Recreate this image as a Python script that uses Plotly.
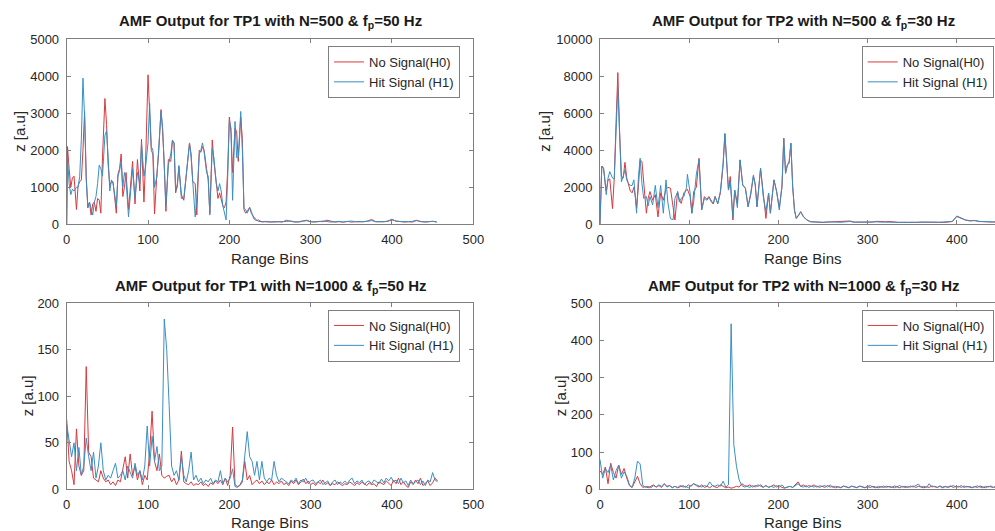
import plotly.graph_objects as go

# ---------------- TP1, N=500, fp=50 Hz ----------------
tp1_n500_bins = [
    0, 1, 3, 5, 7, 9, 12, 14, 16, 18,
    20, 22, 24, 26, 28, 30, 32, 34, 36, 38,
    40, 42, 44, 47, 49, 51, 53, 55, 57, 59,
    61, 63, 65, 67, 69, 71, 73, 76, 79, 81,
    84, 87, 90, 92, 95, 97, 100, 102, 104, 106,
    108, 111, 113, 116, 118, 120, 122, 125, 128, 130,
    132, 134, 136, 138, 141, 144, 147, 151, 153, 155,
    158, 160, 163, 165, 167, 169, 172, 174, 176, 179,
    181, 184, 186, 188, 190, 192, 194, 196, 198, 200,
    202, 204, 207, 209, 211, 214, 216, 218, 220, 222,
    225, 227, 230, 233, 236, 240,
] + list(range(245, 460, 5))
tp1_n500_h0 = [
    0, 2100, 1500, 1000, 1250, 1300, 400, 1050, 1150, 1200,
    2000, 3050, 1300, 450, 600, 250, 550, 600, 350, 700,
    650, 300, 1800, 3400, 2700, 1600, 1050, 1150, 1150, 650,
    300, 1350, 1500, 1900, 750, 1000, 1400, 400, 1300, 1700,
    550, 1750, 900, 2300, 600, 1700, 4040, 2900, 2000, 1900,
    280, 1400, 1900, 3100, 2500, 1600, 350, 1750, 1700, 2250,
    2200, 850, 1100, 1550, 800, 650, 1400, 2200, 1900, 1150,
    1100, 250, 2000, 1950, 2100, 2000, 1500, 1200, 300, 2280,
    1700, 1000, 700, 850, 700, 500, 450, 600, 1500, 2900,
    2500, 1400, 2600, 2500, 1700, 2900, 2300, 400, 300, 350,
    460, 300, 200, 120, 80, 70,
    70, 60, 70, 60, 70, 80, 90, 70, 60, 80,
    100, 70, 60, 80, 70, 110, 80, 60, 70, 60,
    80, 60, 70, 60, 70, 90, 130, 70, 60, 70,
    80, 120, 90, 70, 60, 70, 60, 100, 70, 60,
    70, 80, 60,
]
tp1_n500_h1 = [
    0, 1800, 1100, 800, 950, 900, 1000, 1000, 1300, 2300,
    3950, 2900, 1200, 450, 600, 450, 250, 600, 750, 1100,
    1600, 1500, 1300, 2400, 2530, 1800, 900, 1200, 1100, 800,
    500, 1300, 1450, 1700, 1000, 1400, 1200, 200, 1100, 1500,
    700, 1400, 1100, 2200, 1300, 1550, 2200, 3270, 2100, 2000,
    1000, 1300, 2000, 3050, 2600, 1500, 500, 1600, 1900, 2280,
    2200, 900, 1000, 1590, 700, 700, 1400, 2190, 1800, 1250,
    200, 700, 1900, 2000, 2200, 1950, 1400, 1300, 250, 2050,
    1800, 1100, 900, 1100, 900, 500, 300, 120, 1300, 2800,
    2600, 650, 2780, 1800, 1800, 3050, 2000, 430, 400, 300,
    450, 350, 150, 100, 120, 60,
    80, 60, 60, 70, 60, 110, 80, 60, 70, 90,
    110, 70, 60, 70, 90, 70, 60, 70, 80, 60,
    70, 90, 70, 60, 70, 80, 100, 70, 60, 70,
    90, 140, 80, 70, 60, 70, 80, 110, 70, 60,
    70, 80, 70,
]

# ---------------- TP2, N=500, fp=30 Hz ----------------
tp2_n500_bins = [
    0, 2, 4, 7, 9, 11, 14, 16, 18, 20,
    22, 24, 26, 28, 30, 32, 34, 36, 38, 40,
    41, 43, 45, 47, 49, 52, 54, 56, 59, 62,
    65, 68, 71, 74, 76, 79, 82, 84, 87, 89,
    91, 94, 97, 98, 101, 103, 105, 108, 111, 114,
    117, 120, 122, 125, 127, 129, 132, 135, 138, 140,
    142, 144, 146, 149, 151, 154, 157, 160, 163, 166,
    169, 172, 174, 176, 180, 183, 186, 189, 191, 195,
    198, 201, 204, 206, 208, 210, 212, 214, 216, 218,
    220, 223, 225, 228, 232, 236, 240,
] + list(range(245, 460, 5))
tp2_n500_h0 = [
    0, 3150, 3000, 1800, 2400, 2450, 850, 2500, 5500, 8200,
    5000, 2600, 2500, 3350, 2500, 2200, 1800, 1700, 2000, 1400,
    900, 2000, 3450, 3400, 2200, 600, 1400, 1770, 1300, 1600,
    400, 1700, 1300, 1900, 2000, 1950, 900, 230, 1770, 1300,
    1130, 1700, 1850, 1900, 1500, 600, 1770, 2000, 3570, 800,
    1500, 1350, 1500, 1300, 1100, 1500, 1130, 1700, 3200, 4900,
    3500, 1850, 2580, 230, 1850, 1130, 3480, 2120, 1950, 950,
    1600, 2600, 2200, 950, 3030, 1500, 320, 1680, 600, 2400,
    1770, 900, 2000, 4650, 2760, 3200, 3300, 4380, 2040, 770,
    320, 500, 680, 410, 230, 140, 120,
    110, 100, 120, 130, 110, 120, 140, 180, 120, 110,
    100, 110, 120, 160, 130, 140, 150, 110, 100, 110,
    100, 110, 100, 120, 110, 100, 120, 110, 100, 120,
    150, 420, 300, 220, 180, 200, 150, 130, 140, 120,
    130, 120, 110,
]
tp2_n500_h1 = [
    0, 3150, 3050, 1600, 2500, 2850, 2500, 2450, 5000, 7400,
    4800, 2300, 2600, 2950, 2400, 2200, 2100, 2100, 2400, 1200,
    600, 2500, 3570, 2200, 1400, 1500, 1000, 1500, 1050, 2100,
    900, 2100, 600, 2400, 1200, 300, 250, 1400, 1750, 1200,
    1400, 1500, 2000, 2700, 1700, 600, 1200, 2700, 3500, 770,
    1400, 1300, 1450, 1200, 1100, 1500, 1100, 1800, 3300, 4900,
    3300, 1850, 2300, 350, 1850, 900, 3480, 2120, 1950, 950,
    1700, 2670, 2100, 950, 3030, 1500, 700, 1680, 600, 2400,
    1770, 770, 2100, 4650, 2760, 3200, 3400, 4380, 2040, 770,
    320, 500, 680, 410, 230, 140, 120,
    130, 110, 130, 140, 120, 110, 130, 150, 110, 120,
    110, 100, 110, 130, 120, 110, 120, 110, 120, 110,
    100, 110, 120, 110, 100, 110, 120, 110, 120, 130,
    160, 450, 340, 230, 200, 210, 160, 140, 150, 130,
    140, 130, 120,
]

# ---------------- N=1000 runs (bins sampled every 3) ----------------
n1000_bins = list(range(0, 457, 3))

tp1_n1000_h0 = [
    75, 30, 20, 5, 65, 25, 15, 20, 132, 40,
    35, 12, 10, 8, 20, 12, 8, 10, 5, 8,
    4, 10, 8, 22, 35, 12, 38, 15, 25, 10,
    20, 5, 15, 10, 40, 84, 30, 20, 38, 15,
    12, 14, 15, 8, 12, 5, 10, 41, 8, 6,
    5, 8, 4, 6, 5, 8, 4, 6, 3, 7,
    5, 9, 6, 10, 5, 12, 4, 15, 67, 5,
    3, 4, 8, 30, 10, 15, 5, 8, 10, 6,
    9, 5, 8, 6, 10, 5, 8, 6, 9, 5,
    7, 4, 9, 6, 10, 5, 8, 11, 6, 9,
    5, 7, 4, 8, 6, 10, 5, 7, 4, 6,
    5, 8, 6, 4, 6, 5, 8, 6, 4, 7,
    5, 8, 6, 4, 7, 5, 6, 3, 8, 6,
    5, 9, 6, 4, 10, 6, 12, 5, 8, 4,
    2, 8, 5, 10, 6, 12, 4, 7, 9, 4,
    7, 12, 9,
]
tp1_n1000_h1 = [
    70, 50, 35, 50, 20, 45, 15, 25, 55, 35,
    20, 40, 12, 25, 50, 20, 10, 15, 12, 20,
    28, 12, 15, 20, 10, 25, 18, 12, 28, 15,
    20, 10, 25, 68, 25, 57, 30, 46, 20, 25,
    183, 150, 90, 25, 15, 20, 10, 35, 15, 8,
    20, 40, 10, 15, 8, 12, 6, 10, 8, 12,
    6, 10, 8, 20, 6, 12, 8, 12, 22, 3,
    2, 5, 10, 40, 62, 35, 30, 15, 30, 10,
    30, 12, 8, 12, 10, 30, 15, 8, 12, 10,
    8, 6, 10, 8, 12, 6, 10, 8, 12, 6,
    9, 10, 6, 8, 10, 5, 7, 9, 4, 8,
    10, 5, 8, 6, 9, 6, 10, 12, 6, 9,
    7, 10, 5, 8, 9, 6, 10, 8, 6, 11,
    7, 12, 9, 13, 8, 10, 6, 12, 7, 9,
    4, 10, 6, 8, 10, 5, 9, 4, 10, 8,
    18, 10, 8,
]
tp2_n1000_h0 = [
    50, 40, 60, 15, 70, 45, 30, 65, 40, 56,
    30, 10, 5, 20, 35, 15, 5, 8, 4, 8,
    12, 6, 10, 5, 15, 8, 10, 5, 8, 4,
    6, 10, 5, 12, 8, 15, 10, 6, 12, 5,
    8, 4, 10, 6, 5, 12, 8, 4, 6, 3,
    5, 8, 6, 15, 10, 8, 12, 6, 10, 8,
    12, 6, 10, 5, 8, 12, 6, 10, 5, 3,
    6, 8, 5, 12, 20, 8, 12, 6, 10, 8,
    12, 6, 9, 8, 5, 10, 6, 8, 4, 7,
    5, 9, 6, 4, 8, 6, 5, 9, 6, 4,
    7, 5, 8, 6, 4, 7, 5, 8, 6, 5,
    9, 6, 4, 8, 5, 7, 6, 9, 5, 8,
    6, 4, 7, 5, 9, 6, 5, 8, 4, 7,
    6, 9, 5, 8, 6, 10, 5, 8, 6, 4,
    7, 5, 9, 6, 4, 8, 6, 5, 9, 6,
    4, 7, 5,
]
tp2_n1000_h1 = [
    80, 30, 55, 45, 65, 25, 50, 65, 30, 47,
    35, 12, 5, 30, 76, 68, 10, 5, 8, 4,
    10, 6, 12, 8, 15, 6, 10, 4, 8, 5,
    10, 6, 8, 4, 10, 15, 12, 8, 6, 10,
    8, 20, 10, 8, 12, 8, 22, 6, 12, 445,
    120, 62, 25, 10, 6, 8, 5, 10, 6, 12,
    8, 5, 10, 6, 8, 5, 10, 6, 12, 4,
    6, 8, 5, 10, 15, 8, 6, 10, 5, 8,
    6, 9, 5, 8, 10, 6, 12, 5, 8, 6,
    4, 8, 6, 5, 9, 6, 4, 8, 6, 5,
    8, 10, 6, 4, 8, 6, 9, 5, 8, 6,
    4, 7, 10, 6, 8, 5, 9, 6, 10, 14,
    6, 8, 5, 15, 6, 8, 5, 9, 6, 8,
    5, 7, 10, 6, 8, 5, 9, 6, 8, 5,
    7, 9, 6, 4, 8, 6, 9, 5, 7, 8,
    6, 9, 6,
]

titles = [
    "AMF Output for TP1 with N=500 & f<sub>p</sub>=50 Hz",
    "AMF Output for TP2 with N=500 & f<sub>p</sub>=30 Hz",
    "AMF Output for TP1 with N=1000 & f<sub>p</sub>=50 Hz",
    "AMF Output for TP2 with N=1000 & f<sub>p</sub>=30 Hz",
]
y_ranges = [[0, 5000], [0, 10000], [0, 200], [0, 500]]
y_dticks = [1000, 2000, 50, 100]
x_ticks = [0, 100, 200, 300, 400, 500]

RED = "#d9393e"
BLUE = "#3a8fc2"
AXIS = "#7f7f7f"
TEXT = "#262626"
FONT = "Liberation Sans, Arial, sans-serif"
W, H = 995, 531


def px(x):
    """Pixel x -> paper fraction."""
    return x / W


def py(y):
    """Pixel y (from top) -> paper fraction."""
    return 1 - y / H


# panel geometry in pixels: (left, right, top, bottom)
boxes = [
    (66.7, 473.3, 39.3, 224.3),
    (600.0, 995.0, 39.3, 224.3),
    (66.7, 473.3, 303.3, 489.3),
    (600.0, 995.0, 303.3, 489.3),
]
x_ranges = [[0, 500], [0, 442.8], [0, 500], [0, 442.8]]

panels = [
    (tp1_n500_bins, tp1_n500_h0, tp1_n500_h1),
    (tp2_n500_bins, tp2_n500_h0, tp2_n500_h1),
    (n1000_bins, tp1_n1000_h0, tp1_n1000_h1),
    (n1000_bins, tp2_n1000_h0, tp2_n1000_h1),
]

fig = go.Figure()
layout = dict(
    width=W, height=H,
    margin=dict(l=0, r=0, t=0, b=0, pad=0, autoexpand=False),
    paper_bgcolor="white", plot_bgcolor="white",
    font=dict(family=FONT, color=TEXT, size=13),
    annotations=[],
)

for i, ((bins, h0, h1), (l, r, t, b)) in enumerate(zip(panels, boxes)):
    k = "" if i == 0 else str(i + 1)
    lg = "legend" if i == 0 else f"legend{i + 1}"
    full_box = i % 2 == 0
    fig.add_trace(go.Scatter(x=bins, y=h0, mode="lines", name="No Signal(H0)",
                             line=dict(color=RED, width=1), xaxis=f"x{k}", yaxis=f"y{k}",
                             legend=lg))
    fig.add_trace(go.Scatter(x=bins, y=h1, mode="lines", name="Hit Signal (H1)",
                             line=dict(color=BLUE, width=1), xaxis=f"x{k}", yaxis=f"y{k}",
                             legend=lg))
    layout[f"xaxis{k}"] = dict(
        domain=[px(l), px(r)], range=x_ranges[i], anchor=f"y{k}",
        tickvals=x_ticks, ticks="inside", ticklen=4, tickcolor=AXIS,
        showline=True, linecolor=AXIS, linewidth=1, mirror="ticks",
        showgrid=False, zeroline=False, ticklabelstandoff=3, automargin=False,
        tickfont=dict(size=13, color=TEXT, family=FONT),
    )
    layout[f"yaxis{k}"] = dict(
        domain=[py(b), py(t)], range=y_ranges[i], anchor=f"x{k}",
        dtick=y_dticks[i], tick0=0, tickformat="d",
        ticks="inside", ticklen=4, tickcolor=AXIS,
        showline=True, linecolor=AXIS, linewidth=1,
        mirror="ticks" if full_box else False,
        showgrid=False, zeroline=False, ticklabelstandoff=4, automargin=False,
        tickfont=dict(size=13, color=TEXT, family=FONT),
    )
    # legend box in the upper right of each panel
    lx = 328 if i % 2 == 0 else 861.7
    ly = 46 if i < 2 else 309.5
    layout[lg] = dict(
        x=px(lx), y=py(ly), xanchor="left", yanchor="top",
        bgcolor="white", bordercolor=AXIS, borderwidth=1,
        font=dict(size=13, color=TEXT, family=FONT),
        tracegroupgap=0,
    )
    # title, axis labels
    cx = 270 if i % 2 == 0 else 803
    ty = 22 if i < 2 else 286
    layout["annotations"].append(dict(
        text=f"<b>{titles[i]}</b>", x=px(cx), y=py(ty), xref="paper", yref="paper",
        xanchor="center", yanchor="middle", showarrow=False,
        font=dict(size=15, color="#1a1a1a", family=FONT)))
    xy = 258 if i < 2 else 522.7
    layout["annotations"].append(dict(
        text="Range Bins", x=px(cx), y=py(xy), xref="paper", yref="paper",
        xanchor="center", yanchor="middle", showarrow=False,
        font=dict(size=15, color=TEXT, family=FONT)))
    yx = [20, 545, 27, 560][i]
    yc = (t + b) / 2
    layout["annotations"].append(dict(
        text="z [a.u]", x=px(yx), y=py(yc), xref="paper", yref="paper",
        xanchor="center", yanchor="middle", textangle=-90, showarrow=False,
        font=dict(size=15, color=TEXT, family=FONT)))

fig.update_layout(**layout)
fig.write_html("out.html")
